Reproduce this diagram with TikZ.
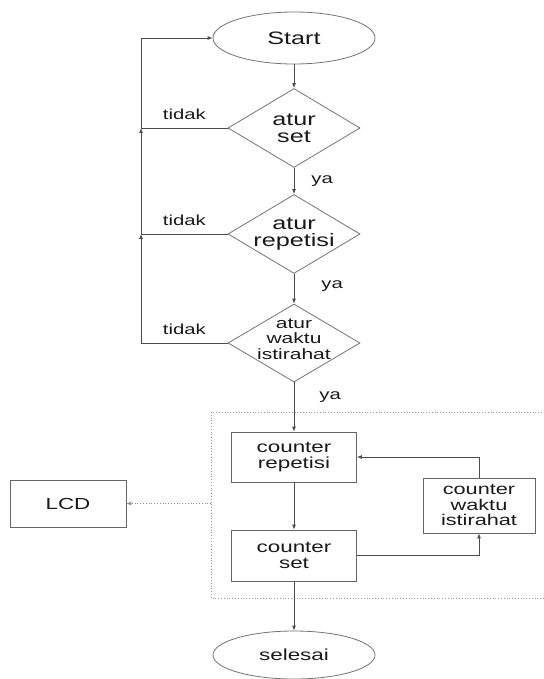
\documentclass[tikz,border=0pt]{standalone}
\usepackage{fontspec}
\setmainfont{Liberation Sans}[FakeStretch=1.4]
\usetikzlibrary{arrows.meta}
\usetikzlibrary{shapes.geometric}

\begin{document}
\begin{tikzpicture}[x=1pt,y=-1pt,>/.tip={Latex[length=5pt,width=4pt]},
	flow/.style={draw=black!70,line width=0.8pt},
	terminal/.style={draw=black!55,line width=0.8pt,shape=ellipse,minimum width=162pt,minimum height=52pt,inner sep=0pt,text=black!90,font=\fontsize{18}{18}\selectfont},
	decide/.style={draw=black!55,line width=0.8pt,shape=diamond,minimum width=132pt,minimum height=79pt,inner sep=0pt},
	decidetext/.style={align=center,inner sep=0pt,text=black!90,font=\fontsize{18}{17}\selectfont},
	process/.style={draw=black!60,line width=0.8pt,shape=rectangle,minimum width=125pt,minimum height=50pt,inner sep=0pt,align=center,text=black!90,font=\fontsize{16}{15.5}\selectfont},
	answer/.style={inner sep=0pt,text=black!90,font=\fontsize{14.5}{14.5}\selectfont}]
	\useasboundingbox (0,0) rectangle (543,679);

	\draw (294,38) node (start) [terminal] {Start};
	\draw (294,128) node (aset) [decide] {};
	\node (asettxt) [decidetext] at (aset) {atur\\set};
	\draw (294,234) node (arep) [decide] {};
	\node (areptxt) [decidetext] at (arep) {atur\\repetisi};
	\draw (294,343) node (awaktu) [decide,minimum height=78pt] {};
	\node (awaktutxt) [decidetext,font=\fontsize{15}{15.5}\selectfont,yshift=4pt] at (awaktu) {atur\\waktu\\istirahat};

	\draw (294,457) node (crep) [process] {counter\\repetisi};
	\draw (294,555.5) node (cset) [process,minimum height=51pt] {counter\\set};
	\draw (479,505.5) node (cwaktu) [process,minimum width=112pt,minimum height=55pt,font=\fontsize{15.5}{15.5}\selectfont] {counter\\waktu\\istirahat};
	\draw (68,503.5) node (lcd) [process,minimum width=116pt,minimum height=47pt] {LCD};
	\draw (294,655) node (selesai) [terminal,minimum height=48pt,font=\fontsize{16}{16}\selectfont] {selesai};

	% group of counters
	\draw [black!40,line width=0.8pt,dotted] (211,412) rectangle (560,598);
	\coordinate (framew) at (211,503.5);
	\coordinate (loop) at (141,38);

	\draw[->,flow] (start) -- (aset);
	\draw[->,flow] (aset) -- node [answer,right=17pt] {ya} (arep);
	\draw[->,flow] (arep) -- node [answer,right=27pt,pos=.4] {ya} (awaktu);
	\draw[->,flow] (awaktu) -- node [answer,right=25pt,pos=.3] {ya} (crep);
	\draw[->,flow] (crep) -- (cset);
	\draw[->,flow] (cset) -- (selesai);
	\draw[->,flow] (cset) -| (cwaktu);
	\draw[->,flow] (cwaktu) |- (crep);
	\draw[->,flow,draw=black!45,dotted] (framew) -- (lcd);

	\draw[->,flow] (awaktu.west) -- node [answer,above=8pt] {tidak} (awaktu.west -| loop) -- (arep.west -| loop);
	\draw[->,flow] (arep.west) -- node [answer,above=8pt] {tidak} (arep.west -| loop) -- (aset.west -| loop);
	\draw[->,flow] (aset.west) -- node [answer,above=8pt] {tidak} (aset.west -| loop) |- (start.west);
\end{tikzpicture}
\end{document}
